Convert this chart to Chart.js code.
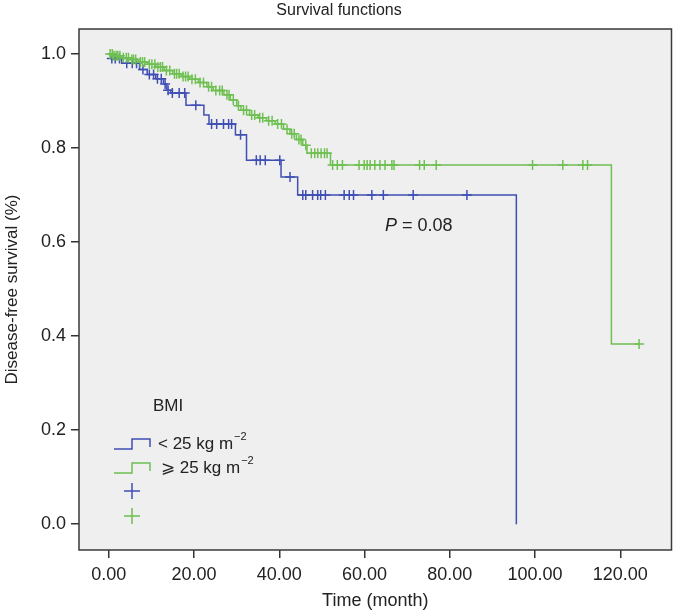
<!DOCTYPE html>
<html>
<head>
<meta charset="utf-8" />
<title>Survival functions</title>
<script src="https://cdn.jsdelivr.net/npm/chart.js@4.4.1/dist/chart.umd.min.js"></script>
<style>
  html, body { margin: 0; padding: 0; background: #fff; overflow: hidden; }
  #wrap { width: 678px; height: 616px; }
  canvas { display: block; }
</style>
</head>
<body>
<div id="wrap"><canvas id="km"></canvas></div>
<script>
  // Kaplan-Meier steps: time of event (month) and survival after it
  var blueEventT = [0, 0.5, 3.0, 7.2, 9.0, 11.0, 12.8, 13.6, 14.5, 18.1, 22.3, 23.5, 29.7, 32.3, 40.4, 44.3, 95.6];
  var blueEventS = [1.0, 0.990, 0.980, 0.967, 0.956, 0.947, 0.936, 0.923, 0.917, 0.891, 0.870, 0.851, 0.828, 0.774, 0.738, 0.700, 0.0];
  var blueCensorT = [0.7, 1.5, 2.5, 4.2, 5.5, 6.5, 8.0, 9.5, 10.5, 11.4, 12.3, 13.2, 13.9, 14.9, 16.5, 17.8, 20.4,
    24.1, 25.3, 26.9, 28.1, 28.8, 30.9, 34.6, 35.5, 36.7, 40.1, 42.5, 45.5, 46.2, 47.8, 49.0, 49.7, 50.8,
    55.2, 56.4, 57.4, 61.7, 64.4, 71.4, 84.0];

  var greenEventT = [0, 1.0, 3.0, 5.0, 7.0, 9.0, 11.0, 13.0, 15.0, 17.0, 19.0, 21.0, 23.0, 24.5, 27.0, 28.5, 30.0,
    31.0, 33.0, 35.0, 37.0, 39.0, 41.0, 42.5, 44.0, 45.5, 46.5, 52.0, 117.9, 124.4];
  var greenEventS = [1.0, 0.996, 0.992, 0.988, 0.983, 0.978, 0.972, 0.965, 0.958, 0.952, 0.946, 0.939, 0.930, 0.922,
    0.913, 0.902, 0.890, 0.880, 0.870, 0.864, 0.858, 0.851, 0.840, 0.830, 0.818, 0.806, 0.789, 0.764, 0.383, 0.383];
  var greenCensorT = [0.3, 0.8, 1.2, 1.7, 2.1, 2.6, 3.4, 4.1, 4.6, 5.4, 5.8, 6.3, 7.4, 7.9, 8.4, 9.5, 10.1, 10.8,
    11.5, 12.1, 12.6, 13.5, 14.3, 15.4, 15.9, 16.5, 17.4, 18.0, 18.6, 19.5, 20.3, 21.4, 22.2, 23.4, 24.1,
    25.1, 26.0, 26.6, 27.7, 28.2, 29.2, 30.4, 31.6, 32.3, 33.5, 34.2, 35.4, 36.1, 37.5, 38.3, 39.6, 40.5,
    41.8, 42.9, 43.5, 44.6, 45.1, 46.2, 47.5, 48.3, 49.0, 49.8, 50.6, 51.2, 52.5, 53.6, 54.8, 58.7, 59.9,
    60.6, 61.3, 62.4, 63.6, 64.8, 66.4, 66.9, 72.9, 74.0, 76.8, 99.4, 106.5, 111.2, 112.3, 124.4];

  var xTickValues = [0, 20, 40, 60, 80, 100, 120];
  var yTickValues = [0, 0.2, 0.4, 0.6, 0.8, 1.0];
  var groupLabels = ['< 25 kg m', '\u2A7E 25 kg m'];

  var BLUE = '#3f4fb3';
  var GREEN = '#6fc052';
  var FONT = '"Liberation Sans", Arial, Helvetica, sans-serif';

  function survAt(ts, ss, t) {
    var s = ss[0];
    for (var i = 0; i < ts.length; i++) { if (ts[i] <= t) s = ss[i]; }
    return s;
  }
  function steps(ts, ss) {
    return ts.map(function (t, i) { return { x: t, y: ss[i] }; });
  }
  function censors(cts, ts, ss) {
    return cts.map(function (t) { return { x: t, y: survAt(ts, ss, t) }; });
  }

  var framePlugin = {
    id: 'frame',
    beforeDatasetsDraw: function (chart) {
      var a = chart.chartArea, ctx = chart.ctx;
      ctx.save();
      ctx.fillStyle = '#efefef';
      ctx.fillRect(a.left, a.top, a.right - a.left, a.bottom - a.top);
      ctx.restore();
    },
    afterDraw: function (chart) {
      var a = chart.chartArea, ctx = chart.ctx;
      ctx.save();
      ctx.strokeStyle = '#3a3a3a';
      ctx.lineWidth = 1.5;
      ctx.strokeRect(a.left, a.top, a.right - a.left, a.bottom - a.top);

      // title
      ctx.fillStyle = '#222';
      ctx.font = '16px ' + FONT;
      ctx.textAlign = 'center';
      ctx.textBaseline = 'middle';
      ctx.fillText('Survival functions', 339, 11);

      // P value
      ctx.textAlign = 'left';
      ctx.font = 'italic 18px ' + FONT;
      ctx.fillText('P', 385, 226);
      var pw = ctx.measureText('P').width;
      ctx.font = '18px ' + FONT;
      ctx.fillText(' = 0.08', 385 + pw, 226);

      // legend
      ctx.font = '17px ' + FONT;
      ctx.fillText('BMI', 153, 406);
      var rows = [{ c: BLUE, y: 449 }, { c: GREEN, y: 473 }];
      rows.forEach(function (r, i) {
        ctx.strokeStyle = r.c;
        ctx.lineWidth = 1.5;
        ctx.beginPath();
        ctx.moveTo(114, r.y);
        ctx.lineTo(132, r.y);
        ctx.lineTo(132, r.y - 10);
        ctx.lineTo(150, r.y - 10);
        ctx.lineTo(150, r.y - 2);
        ctx.stroke();
        ctx.fillStyle = '#222';
        ctx.font = '17px ' + FONT;
        var lx = i === 0 ? 158 : 161;
        var ly = r.y - 5;
        ctx.fillText(groupLabels[i], lx, ly);
        var w = ctx.measureText(groupLabels[i]).width;
        ctx.font = '11px ' + FONT;
        ctx.fillText('\u22122', lx + w + 1, ly - 7);
      });
      [{ c: BLUE, y: 491 }, { c: GREEN, y: 516 }].forEach(function (p) {
        ctx.strokeStyle = p.c;
        ctx.lineWidth = 1.5;
        ctx.beginPath();
        ctx.moveTo(124, p.y); ctx.lineTo(140, p.y);
        ctx.moveTo(132, p.y - 8); ctx.lineTo(132, p.y + 8);
        ctx.stroke();
      });
      ctx.restore();
    }
  };

  new Chart(document.getElementById('km'), {
    type: 'line',
    data: {
      datasets: [
        { data: steps(greenEventT, greenEventS), borderColor: GREEN, borderWidth: 1.5, stepped: 'before', pointRadius: 0, fill: false },
        { data: censors(greenCensorT, greenEventT, greenEventS), showLine: false, pointStyle: 'cross', pointRadius: 5,
          pointBorderWidth: 1.5, borderColor: GREEN, pointBorderColor: GREEN },
        { data: steps(blueEventT, blueEventS), borderColor: BLUE, borderWidth: 1.5, stepped: 'before', pointRadius: 0, fill: false },
        { data: censors(blueCensorT, blueEventT, blueEventS), showLine: false, pointStyle: 'cross', pointRadius: 5,
          pointBorderWidth: 1.5, borderColor: BLUE, pointBorderColor: BLUE }
      ]
    },
    options: {
      responsive: true,
      maintainAspectRatio: false,
      animation: false,
      events: [],
      layout: { padding: { top: 29, right: 1, left: 0, bottom: 0 } },
      plugins: { legend: { display: false }, tooltip: { enabled: false }, title: { display: false } },
      scales: {
        x: {
          type: 'linear', min: -7, max: 132,
          afterBuildTicks: function (s) { s.ticks = xTickValues.map(function (v) { return { value: v }; }); },
          afterFit: function (s) { s.height = 66; s.paddingLeft = 0; s.paddingRight = 0; },
          grid: { drawOnChartArea: false, drawTicks: true, tickLength: 8, color: '#333', lineWidth: 1.5 },
          border: { display: false },
          ticks: { padding: 6, color: '#222', font: { family: FONT, size: 18 }, callback: function (v) { return v.toFixed(2); } },
          title: { display: true, text: 'Time (month)', color: '#222', font: { family: FONT, size: 18 }, padding: { top: 0, bottom: 4 } }
        },
        y: {
          type: 'linear', min: -0.055, max: 1.053,
          afterBuildTicks: function (s) { s.ticks = yTickValues.map(function (v) { return { value: v }; }); },
          afterFit: function (s) { s.width = 79; s.paddingTop = 0; s.paddingBottom = 0; },
          grid: { drawOnChartArea: false, drawTicks: true, tickLength: 8, color: '#333', lineWidth: 1.5 },
          border: { display: false },
          ticks: { padding: 5, color: '#222', font: { family: FONT, size: 18 }, callback: function (v) { return v.toFixed(1); } },
          title: { display: true, text: 'Disease-free survival (%)', color: '#222', font: { family: FONT, size: 17 }, padding: { top: 2, bottom: 0 } }
        }
      }
    },
    plugins: [framePlugin]
  });
</script>
</body>
</html>
